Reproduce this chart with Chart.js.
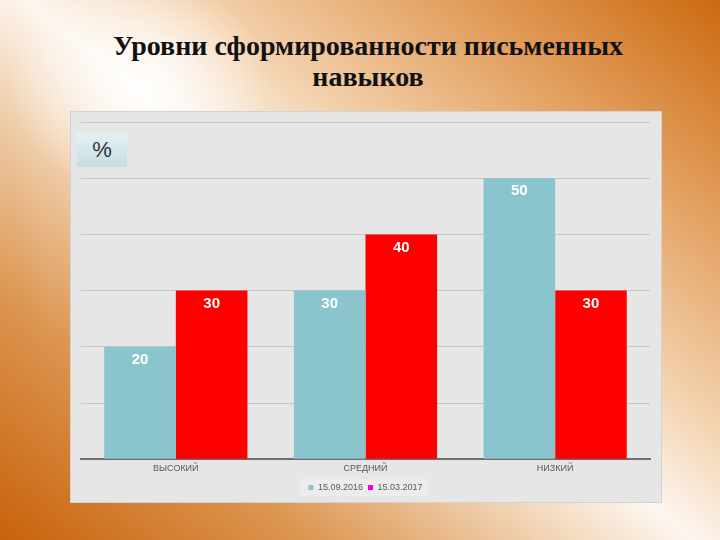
<!DOCTYPE html>
<html>
<head>
<meta charset="utf-8">
<script src="https://cdn.jsdelivr.net/npm/chart.js@4.4.1/dist/chart.umd.min.js"></script>
<style>
  html, body { margin: 0; padding: 0; }
  body {
    width: 720px; height: 540px; overflow: hidden; position: relative;
    background:
      radial-gradient(ellipse 130px 110px at 140px 85px, rgba(255,255,255,0.9), rgba(255,255,255,0) 100%),
      linear-gradient(39deg, #c8620c 0%, #dc9550 22%, #f4dcc2 42%, #fdf6ef 50%, #f3d2ae 62%, #e3a060 80%, #cc6a10 100%);
  }
  #title {
    position: absolute; left: 68px; top: 30px; width: 600px;
    text-align: center; font-family: "Liberation Serif", "DejaVu Serif", serif;
    font-weight: bold; font-size: 28px; line-height: 31px; color: #111;
  }
  #panel {
    position: absolute; left: 71px; top: 112px; width: 590px; height: 390px;
    background: #e6e6e6; box-shadow: 0 0 0 1px #d2d2d2;
  }
  #unit {
    position: absolute; left: 6px; top: 21px; width: 50px; height: 34px;
    background: linear-gradient(#e4f1f4, #c4dde3);
    font-family: "Liberation Sans", Arial, sans-serif; font-size: 22px; color: #333;
    text-align: center; line-height: 34px;
  }
  canvas { position: absolute; left: 0; top: 0; }
</style>
</head>
<body>
<div id="title">Уровни сформированности письменных<br>навыков</div>
<div id="panel">
  <canvas id="chart" width="590" height="390"></canvas>
  <div id="unit">%</div>
</div>
<script>
// chart data
const categories = ["ВЫСОКИЙ", "СРЕДНИЙ", "НИЗКИЙ"];
const seriesNames = ["15.09.2016", "15.03.2017"];
const values2016 = [20, 30, 50];
const values2017 = [30, 40, 30];
const barColors = ["#8ac5ce", "#ff0000"];
const legendColors = ["#8ac5ce", "#ee00ee"];

// white value labels near the top of each bar
const barLabels = {
  id: "barLabels",
  afterDatasetsDraw(chart) {
    const ctx = chart.ctx;
    ctx.save();
    ctx.fillStyle = "#ffffff";
    ctx.font = "bold 15px 'Liberation Sans', Arial, sans-serif";
    ctx.textAlign = "center";
    ctx.textBaseline = "middle";
    chart.data.datasets.forEach((ds, i) => {
      chart.getDatasetMeta(i).data.forEach((bar, j) => {
        ctx.fillText(ds.data[j], bar.x, bar.y + 13);
      });
    });
    ctx.restore();
  }
};

// light box behind the legend
const legendBox = {
  id: "legendBox",
  beforeDraw(chart) {
    const boxes = chart.legend.legendHitBoxes;
    if (!boxes || !boxes.length) return;
    const first = boxes[0], last = boxes[boxes.length - 1];
    const ctx = chart.ctx;
    ctx.save();
    ctx.fillStyle = "#ececec";
    ctx.fillRect(first.left - 8, first.top - 4, last.left + last.width - first.left + 14, first.height + 8);
    ctx.restore();
  }
};

new Chart(document.getElementById("chart"), {
  type: "bar",
  data: {
    labels: categories,
    datasets: [
      { label: seriesNames[0], data: values2016, backgroundColor: barColors[0] },
      { label: seriesNames[1], data: values2017, backgroundColor: barColors[1] }
    ]
  },
  options: {
    responsive: false,
    animation: false,
    layout: { padding: { top: 10, left: 10, right: 11, bottom: 0 } },
    datasets: { bar: { categoryPercentage: 0.755, barPercentage: 1.0 } },
    scales: {
      x: {
        grid: { display: false, drawTicks: false, tickLength: 0 },
        border: { color: "#6e6e6e", width: 2 },
        ticks: { color: "#595959", font: { family: "'Liberation Sans', Arial, sans-serif", size: 9 }, padding: 4 }
      },
      y: {
        min: 0, max: 60,
        ticks: { display: false, stepSize: 10 },
        grid: { color: "#c6c6c6", lineWidth: 1, drawTicks: false },
        border: { display: false },
        afterFit(scale) { scale.width = 0; }
      }
    },
    plugins: {
      tooltip: { enabled: false },
      legend: {
        position: "bottom",
        labels: {
          color: "#595959",
          font: { family: "'Liberation Sans', Arial, sans-serif", size: 9 },
          boxWidth: 5, boxHeight: 5, padding: 5,
          usePointStyle: true, pointStyle: "rect",
          generateLabels(chart) {
            return chart.data.datasets.map((ds, i) => ({
              text: ds.label,
              fillStyle: legendColors[i],
              strokeStyle: legendColors[i],
              lineWidth: 0,
              pointStyle: "rect",
              fontColor: "#595959",
              datasetIndex: i
            }));
          }
        }
      }
    }
  },
  plugins: [legendBox, barLabels]
});
</script>
</body>
</html>
